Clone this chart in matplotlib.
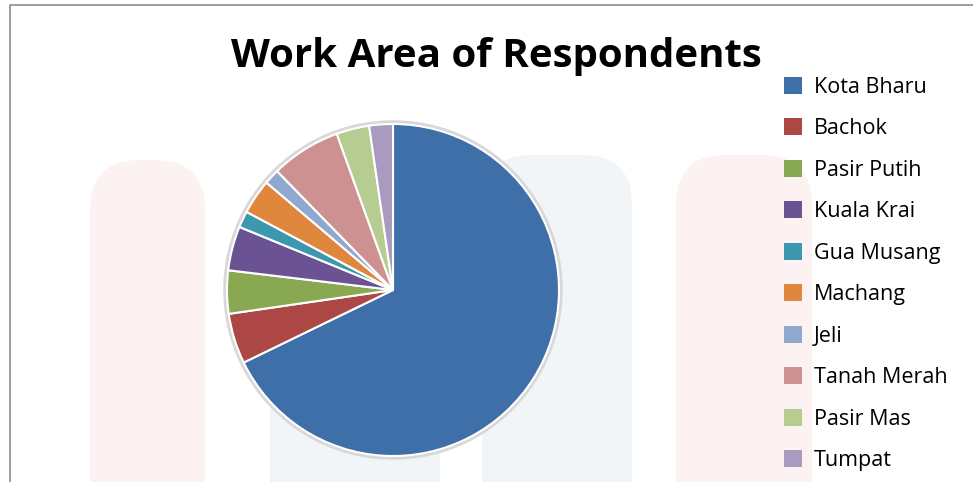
import matplotlib.pyplot as plt
from matplotlib.patches import FancyBboxPatch, Patch

areas = ["Kota Bharu", "Bachok", "Pasir Putih", "Kuala Krai", "Gua Musang",
         "Machang", "Jeli", "Tanah Merah", "Pasir Mas", "Tumpat"]
shares = [67.8, 4.9, 4.2, 4.3, 1.6, 3.4, 1.5, 6.8, 3.2, 2.3]
colours = ["#3E6FA9", "#AC4745", "#88A851", "#6A5293", "#3B98AF",
           "#DF873D", "#8FA8CE", "#CD9191", "#B6CC91", "#A89AC0"]

W, H = 973, 482
fig = plt.figure(figsize=(W / 100, H / 100), dpi=100)
ax = fig.add_axes([0, 0, 1, 1])
ax.set_xlim(0, W)
ax.set_ylim(0, H)
ax.set_aspect("equal")
ax.axis("off")

# faint watermark shapes behind the chart
for x0, x1, top, col in [(90, 205, 322, "#FDF2F2"), (270, 440, 332, "#F2F5F8"),
                         (482, 632, 327, "#F2F5F8"), (676, 812, 327, "#FDF2F2")]:
    ax.add_patch(FancyBboxPatch((x0 + 50, -100), x1 - x0 - 100, top + 50,
                                boxstyle="round,pad=50", fc=col, ec="none", zorder=0))

# frame lines
ax.plot([10, 10, W], [0, H - 5, H - 5], color="#8C8C8C", lw=1.2, zorder=1)

wedges, _ = ax.pie(shares, colors=colours, startangle=90, counterclock=False,
                   center=(393, 192), radius=166,
                   wedgeprops=dict(edgecolor="white", linewidth=1.5))
for w in wedges:
    w.set_zorder(3)
ax.add_patch(plt.Circle((393, 192), 168, fc="none", ec="#D8D8D8", lw=2.5, zorder=2))
ax.set_xlim(0, W)
ax.set_ylim(0, H)

ax.text(496, H - 57, "Work Area of Respondents", ha="center", va="center",
        fontsize=29, fontweight="bold", family="Open Sans", color="black", zorder=4)

handles = [Patch(facecolor=c, edgecolor="none") for c in colours]
leg = ax.legend(handles, areas, loc="upper left", bbox_to_anchor=(775 / W, 1 - 68 / H),
                frameon=False, prop=dict(family="Open Sans", size=15.5),
                handlelength=0.85, handleheight=0.85, handletextpad=0.55,
                labelspacing=0.95, borderaxespad=0)

fig.savefig("out.png", dpi=100)
